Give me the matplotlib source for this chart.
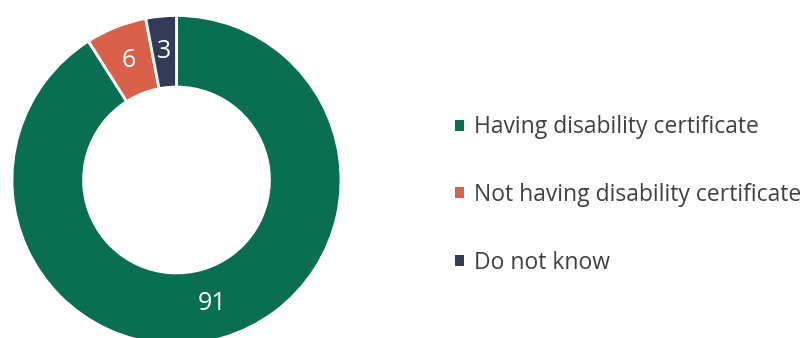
import matplotlib.pyplot as plt
from matplotlib.patches import Patch

plt.rcParams["font.family"] = ["Open Sans", "DejaVu Sans"]

categories = ["Having disability certificate",
              "Not having disability certificate",
              "Do not know"]
shares = [91, 6, 3]
colors = ["#0A6E50", "#D9614A", "#333A56"]

W, H = 809, 338
fig = plt.figure(figsize=(W / 100, H / 100), dpi=100)

# donut placed in pixel terms: centre (176.5, 180) from top, radius 164.5
cx, cy, r = 176.5, 180, 164.5
ax = fig.add_axes([(cx - r) / W, (H - cy - r) / H, 2 * r / W, 2 * r / H])

hole = 0.565
wedges, _, autotexts = ax.pie(
    shares, colors=colors, startangle=90, counterclock=False, radius=1,
    wedgeprops=dict(width=1 - hole, edgecolor="white", linewidth=2),
    autopct=lambda p: f"{p:.0f}", pctdistance=(1 + hole) / 2,
    textprops=dict(color="white", fontsize=18),
)
ax.set_xlim(-1, 1)
ax.set_ylim(-1, 1)
ax.set_aspect("equal")
ax.axis("off")

handles = [Patch(facecolor=c, edgecolor="none") for c in colors]
fig.legend(handles, categories, loc="center left",
           bbox_to_anchor=(444 / W, (H - 195) / H),
           frameon=False, fontsize=16.5, labelcolor="#404040",
           handlelength=0.38, handleheight=0.38, handletextpad=0.45,
           labelspacing=1.9, borderpad=0)

fig.savefig("out.png", dpi=100)
